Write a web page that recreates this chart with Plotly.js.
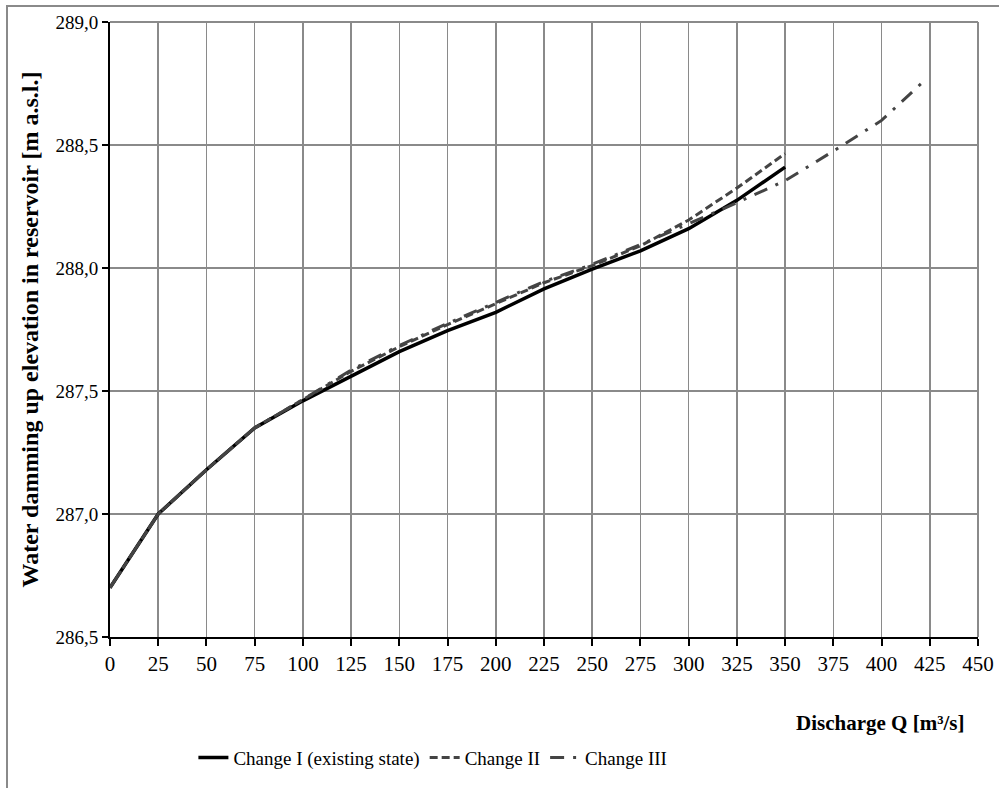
<!DOCTYPE html>
<html>
<head>
<meta charset="utf-8">
<script src="https://cdn.plot.ly/plotly-3.0.1.min.js"></script>
<style>
  html, body { margin: 0; padding: 0; background: #fff; }
  #wrap { position: relative; width: 999px; height: 788px; overflow: hidden; }
  #frame { position: absolute; left: 6px; top: 5px; width: 1100px; height: 900px;
           border-left: 2px solid #8a8a8a; border-top: 2px solid #8a8a8a; }
  #chart { position: absolute; left: 0; top: 0; width: 999px; height: 788px; }
</style>
</head>
<body>
<div id="wrap"><div id="frame"></div><div id="chart"></div></div>
<script>
// Discharge Q [m3/s]
const discharge12 = [0, 25, 50, 75, 100, 125, 150, 175, 200, 225, 250, 275, 300, 325, 350];
const discharge3  = [0, 25, 50, 75, 100, 125, 150, 175, 200, 225, 250, 275, 300, 325, 350, 375, 400, 422];

// Water damming up elevation [m a.s.l.]
const changeI   = [286.70, 287.00, 287.18, 287.35, 287.46, 287.56, 287.66, 287.745, 287.82, 287.915, 287.995, 288.07, 288.16, 288.275, 288.41];
const changeII  = [286.70, 287.00, 287.18, 287.35, 287.465, 287.58, 287.68, 287.77, 287.855, 287.94, 288.01, 288.09, 288.195, 288.325, 288.465];
const changeIII = [286.70, 287.00, 287.18, 287.35, 287.465, 287.585, 287.685, 287.775, 287.86, 287.945, 288.015, 288.095, 288.18, 288.265, 288.355, 288.475, 288.60, 288.76];

const seriesNames = ['Change I (existing state)', 'Change II', 'Change III'];

const font = 'Liberation Serif, Times New Roman, serif';

const traces = [
  { x: discharge12, y: changeI, name: seriesNames[0], mode: 'lines',
    line: { color: '#000000', width: 3.5 } },
  { x: discharge12, y: changeII, name: seriesNames[1], mode: 'lines',
    line: { color: '#444444', width: 3, dash: '8px,4px' } },
  { x: discharge3, y: changeIII, name: seriesNames[2], mode: 'lines',
    line: { color: '#444444', width: 3, dash: '14px,9px,3px,9px' } }
];

const layout = {
  width: 999, height: 788,
  margin: { l: 110, r: 21, t: 22, b: 138 },
  paper_bgcolor: 'rgba(0,0,0,0)',
  plot_bgcolor: '#ffffff',
  separators: ', ',
  font: { family: font, color: '#000', size: 20 },
  showlegend: true,
  legend: {
    orientation: 'h', x: 0.372, xanchor: 'center', y: -0.196, yanchor: 'middle',
    font: { family: font, size: 19, color: '#000' },
    itemwidth: 30, tracegroupgap: 0
  },
  xaxis: {
    range: [0, 450], dtick: 25, tick0: 0,
    showgrid: true, gridcolor: '#8a8a8a', gridwidth: 1.5,
    showline: true, linecolor: '#000', linewidth: 2,
    ticks: 'outside', ticklen: 7, tickwidth: 2, tickcolor: '#000',
    tickfont: { family: font, size: 21, color: '#000' },
    zeroline: false, fixedrange: true
  },
  yaxis: {
    range: [286.5, 289.0], dtick: 0.5, tick0: 286.5, tickformat: '.1f',
    showgrid: true, gridcolor: '#8a8a8a', gridwidth: 1.5,
    showline: true, linecolor: '#000', linewidth: 2,
    ticks: 'outside', ticklen: 6, tickwidth: 2, tickcolor: '#000',
    tickfont: { family: font, size: 19, color: '#000' },
    zeroline: false, fixedrange: true
  },
  shapes: [
    { type: 'line', xref: 'paper', yref: 'paper', x0: 0, x1: 1, y0: 1, y1: 1,
      line: { color: '#8a8a8a', width: 2 } },
    { type: 'line', xref: 'paper', yref: 'paper', x0: 1, x1: 1, y0: 0, y1: 1,
      line: { color: '#8a8a8a', width: 2 } }
  ],
  annotations: [
    { text: '<b>Discharge Q [m³/s]</b>', xref: 'paper', yref: 'paper',
      x: (966 - 110) / 868, y: (650 - 738) / 628.3, xanchor: 'right', yanchor: 'middle',
      showarrow: false, font: { family: font, size: 21, color: '#000' } },
    { text: '<b>Water damming up elevation in reservoir [m a.s.l.]</b>', xref: 'paper', yref: 'paper',
      x: (29 - 110) / 868, y: 0.5, xanchor: 'center', yanchor: 'middle', textangle: -90,
      showarrow: false, font: { family: font, size: 24, color: '#000' } }
  ]
};

Plotly.newPlot('chart', traces, layout, { displayModeBar: false, staticPlot: true });
</script>
</body>
</html>
